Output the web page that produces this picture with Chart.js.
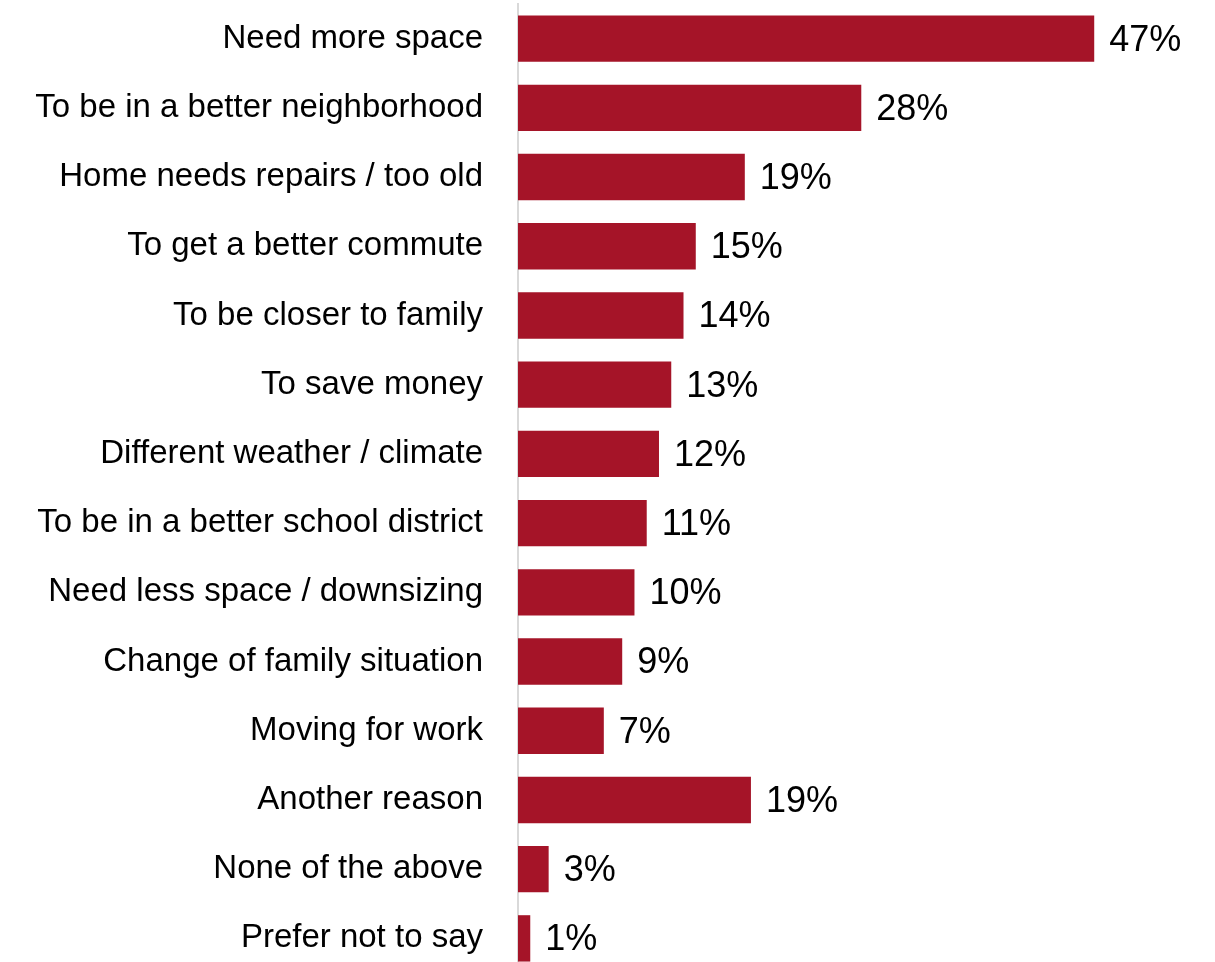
<!DOCTYPE html>
<html>
<head>
<meta charset="utf-8">
<script src="https://cdn.jsdelivr.net/npm/chart.js@4/dist/chart.umd.min.js"></script>
<style>
  html, body { margin: 0; padding: 0; overflow: hidden; background: #fff; }
  canvas { display: block; }
</style>
</head>
<body>
<canvas id="reasonsChart" width="1215" height="973"></canvas>
<script>
// Reasons for moving
const reasons = [
  'Need more space',
  'To be in a better neighborhood',
  'Home needs repairs / too old',
  'To get a better commute',
  'To be closer to family',
  'To save money',
  'Different weather / climate',
  'To be in a better school district',
  'Need less space / downsizing',
  'Change of family situation',
  'Moving for work',
  'Another reason',
  'None of the above',
  'Prefer not to say'
];
const shares = [47, 28, 18.5, 14.5, 13.5, 12.5, 11.5, 10.5, 9.5, 8.5, 7, 19, 2.5, 1];
const xMin = 0;
const xMax = 50;

// value labels at the end of each bar
const barLabels = {
  id: 'barLabels',
  afterDatasetsDraw(chart) {
    const ctx = chart.ctx;
    const meta = chart.getDatasetMeta(0);
    ctx.save();
    ctx.font = '36px "Liberation Sans", Arial, sans-serif';
    ctx.fillStyle = '#000';
    ctx.textAlign = 'left';
    ctx.textBaseline = 'middle';
    meta.data.forEach((bar, i) => {
      ctx.fillText(Math.round(shares[i]) + '%', bar.x + 15, bar.y + 2);
    });
    ctx.restore();
  }
};

const ctx = document.getElementById('reasonsChart').getContext('2d');
new Chart(ctx, {
  type: 'bar',
  data: {
    labels: reasons,
    datasets: [{
      data: shares,
      backgroundColor: '#a51428',
      borderWidth: 0,
      barPercentage: 0.67,
      categoryPercentage: 1
    }]
  },
  options: {
    indexAxis: 'y',
    responsive: false,
    animation: false,
    layout: { padding: { top: 4, right: 84, left: 0, bottom: 0 } },
    plugins: {
      legend: { display: false },
      tooltip: { enabled: false }
    },
    scales: {
      x: {
        display: false,
        min: xMin,
        max: xMax
      },
      y: {
        afterFit(scale) {
          scale.width = 518;
          scale.paddingTop = 0;
          scale.paddingBottom = 0;
        },
        grid: { display: false, drawTicks: false },
        border: { display: true, color: '#d9d9d9', width: 2 },
        ticks: {
          padding: 35,
          color: '#000',
          font: { family: '"Liberation Sans", Arial, sans-serif', size: 33 }
        }
      }
    }
  },
  plugins: [barLabels]
});
</script>
</body>
</html>
